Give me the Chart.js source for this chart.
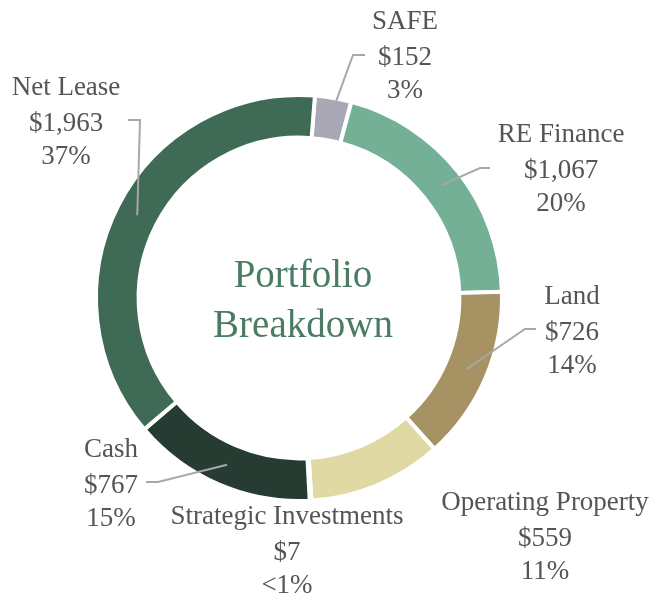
<!DOCTYPE html>
<html>
<head>
<meta charset="utf-8">
<script src="https://cdn.jsdelivr.net/npm/chart.js@4.4.1/dist/chart.umd.min.js"></script>
<style>
  html, body { margin: 0; padding: 0; background: #fff; }
  #wrap { width: 655px; height: 599px; }
</style>
</head>
<body>
<div id="wrap"><canvas id="myChart" width="655" height="599"></canvas></div>
<script>
// portfolio segments, clockwise from the top
const segments = ["SAFE", "RE Finance", "Land", "Operating Property", "Strategic Investments", "Cash", "Net Lease"];
const amounts = [152, 1067, 726, 559, 7, 767, 1963];
const amountLabels = ["$152", "$1,067", "$726", "$559", "$7", "$767", "$1,963"];
const percentLabels = ["3%", "20%", "14%", "11%", "<1%", "15%", "37%"];
const segmentColors = ["#a9a8b6", "#74b095", "#a69262", "#e0d9a3", "#4f7a66", "#263b31", "#3f6a56"];

// where each label sits and how its leader line bends (null = no leader)
const labelLayout = [
  { x: 405, y: 22, leader: [[353, 55], [365, 55]] },
  { x: 561, y: 135, leader: [[480, 168], [490, 168]] },
  { x: 572, y: 297, leader: [[525, 329], [536, 329]] },
  { x: 545, y: 503, leader: null },
  { x: 287, y: 517, leader: null },
  { x: 111, y: 450, leader: [[158, 482], [146, 482]] },
  { x: 66, y: 88, leader: [[140, 120], [128, 120]] },
];

const FONT = '"Liberation Serif", "DejaVu Serif", serif';

const calloutPlugin = {
  id: "callouts",
  afterDraw(chart) {
    const ctx = chart.ctx;
    const meta = chart.getDatasetMeta(0);
    ctx.save();

    // leader lines from the middle of each arc
    ctx.strokeStyle = "#a8a8a8";
    ctx.lineWidth = 2;
    meta.data.forEach((arc, i) => {
      const lay = labelLayout[i];
      if (!lay.leader) return;
      const p = arc.getCenterPoint();
      ctx.beginPath();
      ctx.moveTo(p.x, p.y);
      lay.leader.forEach(pt => ctx.lineTo(pt[0], pt[1]));
      ctx.stroke();
    });

    // three-line labels
    ctx.fillStyle = "#555555";
    ctx.textAlign = "center";
    ctx.textBaseline = "middle";
    ctx.font = "27px " + FONT;
    segments.forEach((name, i) => {
      const lay = labelLayout[i];
      ctx.fillText(name, lay.x, lay.y);
      ctx.fillText(amountLabels[i], lay.x, lay.y + 36);
      ctx.fillText(percentLabels[i], lay.x, lay.y + 69);
    });

    // centre title
    const cx = (chart.chartArea.left + chart.chartArea.right) / 2;
    const cy = (chart.chartArea.top + chart.chartArea.bottom) / 2;
    ctx.fillStyle = "#4b7b63";
    ctx.font = "39px " + FONT;
    ctx.fillText("Portfolio", cx + 4, cy - 21);
    ctx.fillText("Breakdown", cx + 4, cy + 29);
    ctx.restore();
  }
};

const ctx = document.getElementById("myChart").getContext("2d");
const myChart = new Chart(ctx, {
  type: "doughnut",
  data: {
    labels: segments,
    datasets: [{
      data: amounts,
      backgroundColor: segmentColors,
      borderColor: "#ffffff",
      borderWidth: 4,
      hoverOffset: 0,
    }],
  },
  options: {
    responsive: false,
    animation: false,
    cutout: "79%",
    rotation: 4.5,
    layout: { padding: { left: 94, right: 151, top: 93, bottom: 96 } },
    plugins: {
      legend: { display: false },
      tooltip: { enabled: false },
    },
  },
  plugins: [calloutPlugin],
});
</script>
</body>
</html>
